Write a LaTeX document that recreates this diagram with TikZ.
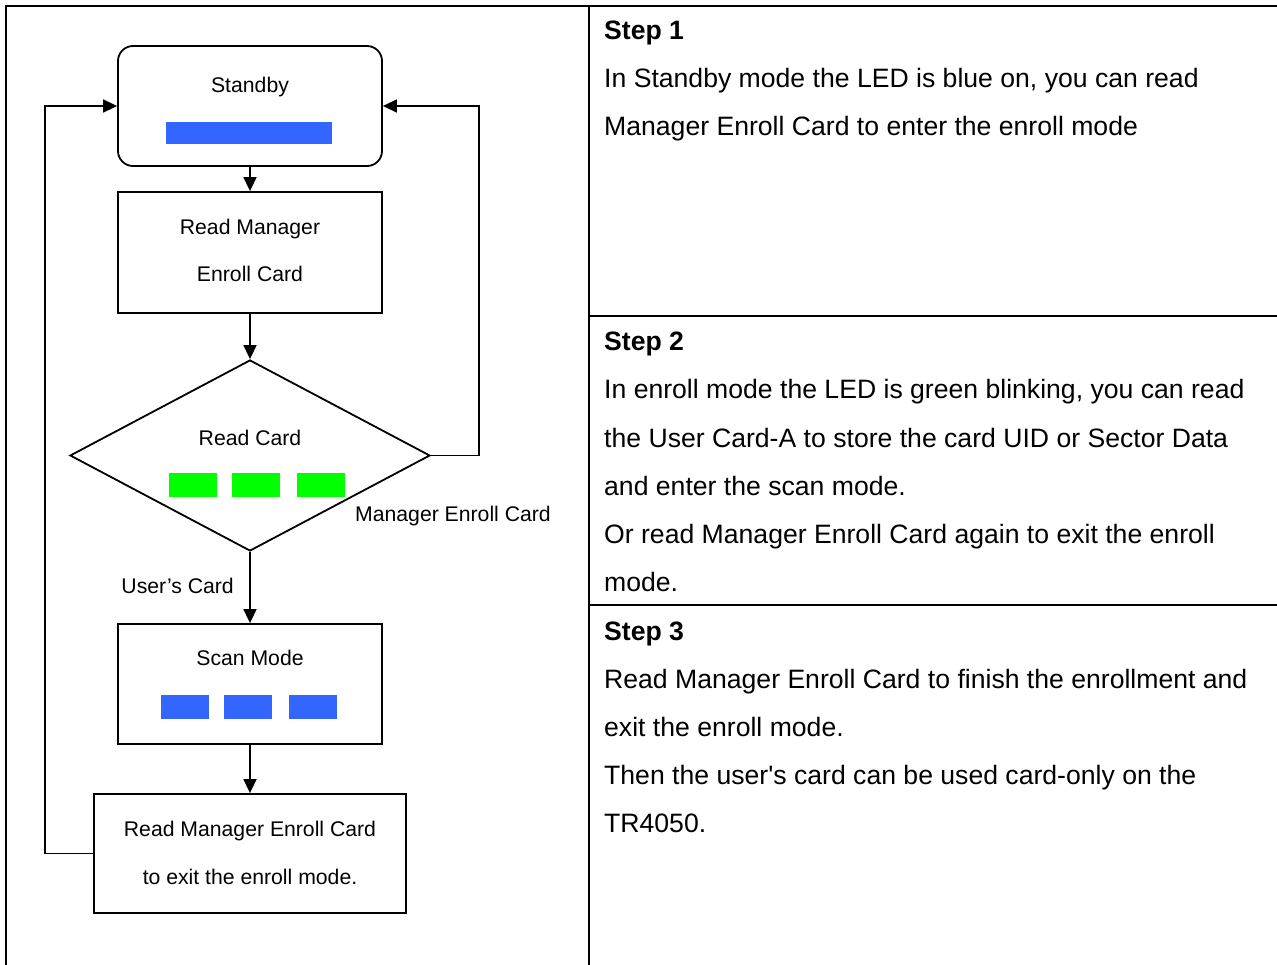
\documentclass[tikz,border=0pt]{standalone}
\usepackage{fontspec}
\setmainfont{Liberation Sans}
\usetikzlibrary{shapes.geometric,arrows.meta}
\definecolor{ledblue}{HTML}{3366FF}
\definecolor{ledgreen}{HTML}{00FF00}
\tikzset{
  box/.style={draw, line width=1.8pt, minimum width=264pt, minimum height=120pt, inner sep=0pt},
  flow/.style={line width=1.6pt, -{Triangle[length=14pt,width=13pt]}},
  ftext/.style={anchor=base, inner sep=0pt, font=\fontsize{21.2}{25}\selectfont},
  rtext/.style={anchor=base west, inner sep=0pt, font=\fontsize{26.6}{32}\selectfont},
  grid/.style={line width=1.8pt}
}
\begin{document}
\begin{tikzpicture}[x=1pt, y=-1pt]
\useasboundingbox (0,0) rectangle (1277,965);

% Table lines
\draw[grid] (6,970) -- (6,6) -- (1280,6);
\draw[grid] (589,6) -- (589,970);
\draw[grid] (589,316) -- (1280,316);
\draw[grid] (589,605) -- (1280,605);

% Flow chart boxes
\node[box, rounded corners=15pt] (standby) at (250,106) {};
\node[box, minimum height=121pt] (readmgr) at (250,252.5) {};
\node[box, diamond, minimum width=360pt, minimum height=191pt] (readcard) at (250,455.5) {};
\node[box] (scanmode) at (250,684) {};
\node[box, minimum width=312pt, minimum height=119pt] (exitmode) at (250,853.5) {};

% Texts in the boxes
\node[ftext] (tstandby) at (250,93) {Standby};
\node[ftext] (treadmgr) at (250,234.5) {Read Manager};
\node[ftext] (tenroll) at (250,281.5) {Enroll Card};
\node[ftext] (treadcard) at (250,445.5) {Read Card};
\node[ftext] (tscan) at (250,665.5) {Scan Mode};
\node[ftext] (texit) at (250,836.5) {Read Manager Enroll Card};
\node[ftext] (texitmode) at (250,884.5) {to exit the enroll mode.};

% LED bars
\fill[ledblue] (166,122) rectangle (332,144);
\foreach \x in {169,232,297}
  \fill[ledgreen] (\x,473) rectangle ++(48,24);
\foreach \x in {161,224,289}
  \fill[ledblue] (\x,695) rectangle ++(48,24);

% Arrows
\draw[flow] (standby) -- (readmgr);
\draw[flow] (readmgr) -- (readcard);
\draw[flow] (readcard) -- (scanmode);
\draw[flow] (scanmode) -- (exitmode);
\draw[flow] (readcard.east) -- ++(48,0) |- (standby.east);
\draw[flow] (exitmode.west) -- ++(-48,0) |- (standby.west);

% Labels on the arrows
\node[ftext, anchor=base west] (lblmgr) at (355,521.5) {Manager Enroll Card};
\node[ftext, anchor=base east] (lbluser) at (234,593.5) {User’s Card};

% Step headings
\foreach \y/\txt in {40/Step 1, 351/Step 2, 640/Step 3}
  \node[rtext, font=\fontsize{26.6}{32}\selectfont\bfseries] (step\y) at (604,\y) {\txt};

% Step texts
\foreach \y/\txt in {88/{In Standby mode the LED is blue on, you can read},
                     136/Manager Enroll Card to enter the enroll mode,
                     399/{In enroll mode the LED is green blinking, you can read},
                     447/the User Card-A to store the card UID or Sector Data,
                     495/and enter the scan mode.,
                     543/Or read Manager Enroll Card again to exit the enroll,
                     591/mode.,
                     688/Read Manager Enroll Card to finish the enrollment and,
                     736/exit the enroll mode.,
                     784/Then the user\textquotesingle s card can be used card-only on the,
                     832/TR4050.}
  \node[rtext] (line\y) at (604,\y) {\txt};
\end{tikzpicture}
\end{document}
